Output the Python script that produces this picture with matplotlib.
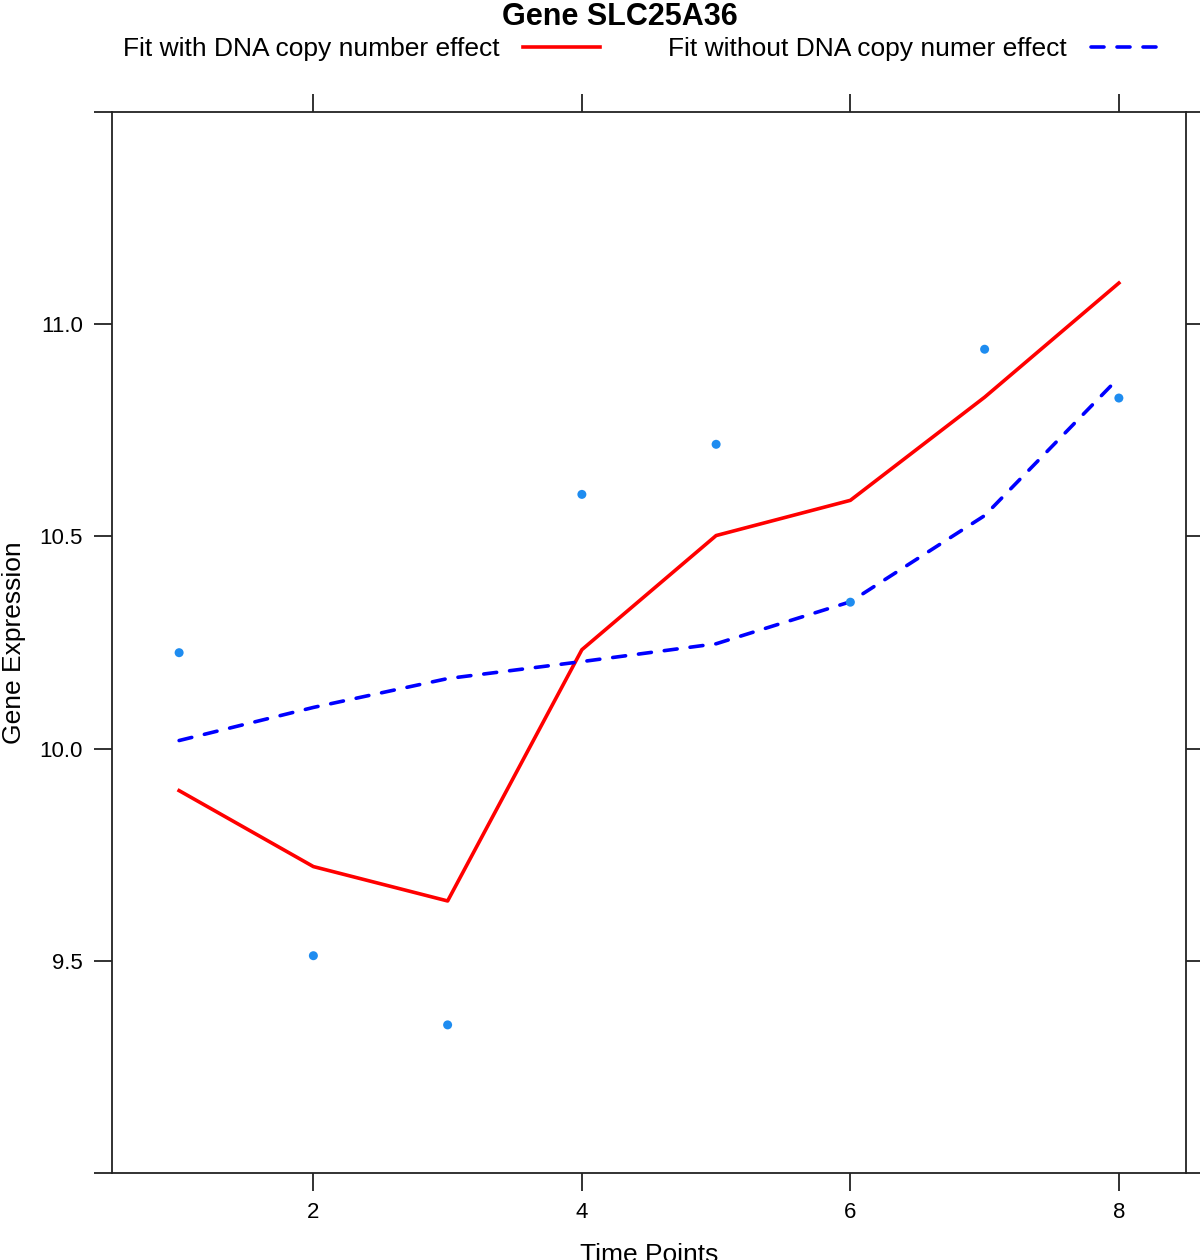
import matplotlib
matplotlib.use("Agg")
import matplotlib.pyplot as plt
from matplotlib.lines import Line2D

plt.rcParams['font.family'] = ['Liberation Sans', 'DejaVu Sans']

time_points = [1, 2, 3, 4, 5, 6, 7, 8]
observed = [10.226, 9.512, 9.349, 10.599, 10.717, 10.345, 10.941, 10.826]
fit_with_cn = [9.901, 9.722, 9.641, 10.233, 10.502, 10.585, 10.828, 11.097]
fit_without_cn = [10.019, 10.097, 10.165, 10.205, 10.247, 10.346, 10.549, 10.874]
x_ticks = [2, 4, 6, 8]
y_ticks = [9.0, 9.5, 10.0, 10.5, 11.0, 11.5]
y_labels = ['', '9.5', '10.0', '10.5', '11.0', '']

title = "Gene SLC25A36"
label_with = "Fit with DNA copy number effect"
label_without = "Fit without DNA copy numer effect"

fig = plt.figure(figsize=(12, 12.6), dpi=100)
ax = fig.add_axes([112/1200, 1 - 1173/1260, (1186-112)/1200, (1173-112)/1260])

dash = (0, (3.6, 3.6))
ax.plot(time_points, fit_with_cn, color='#FF0000', lw=2.6)
ax.plot(time_points, fit_without_cn, color='#0000FF', lw=2.6, ls=dash, dash_capstyle='round')
ax.scatter(time_points, observed, s=42, color='#1E8CF0', zorder=3, edgecolors='none')

ax.set_xlim(0.5, 8.5)
ax.set_ylim(9.0, 11.5)
ax.set_xticks(x_ticks)
ax.set_yticks(y_ticks)
ax.set_yticklabels(y_labels)
ax.tick_params(direction='out', length=13, width=1.3, color='#222222',
               labelsize=16, top=True, right=True, labeltop=False, labelright=False, pad=8)
for s in ax.spines.values():
    s.set_linewidth(1.3)
    s.set_color('#222222')

ax.set_xlabel("Time Points", fontsize=19, labelpad=14)
ax.set_ylabel("Gene Expression", fontsize=19, labelpad=10)

fig.text(620/1200, 1 - 17/1260, title, ha='center', va='center', fontsize=22, fontweight='bold')

handles = [Line2D([], [], color='#FF0000', lw=2.6),
           Line2D([], [], color='#0000FF', lw=2.6, ls=dash, dash_capstyle='round')]
fig.legend(handles, [label_with, label_without], ncol=2, markerfirst=False,
           loc='center', bbox_to_anchor=(645/1200, 1 - 49/1260), frameon=False,
           fontsize=19, handlelength=2.9, handletextpad=0.9, columnspacing=2.6)

fig.savefig("out.png", dpi=100)
